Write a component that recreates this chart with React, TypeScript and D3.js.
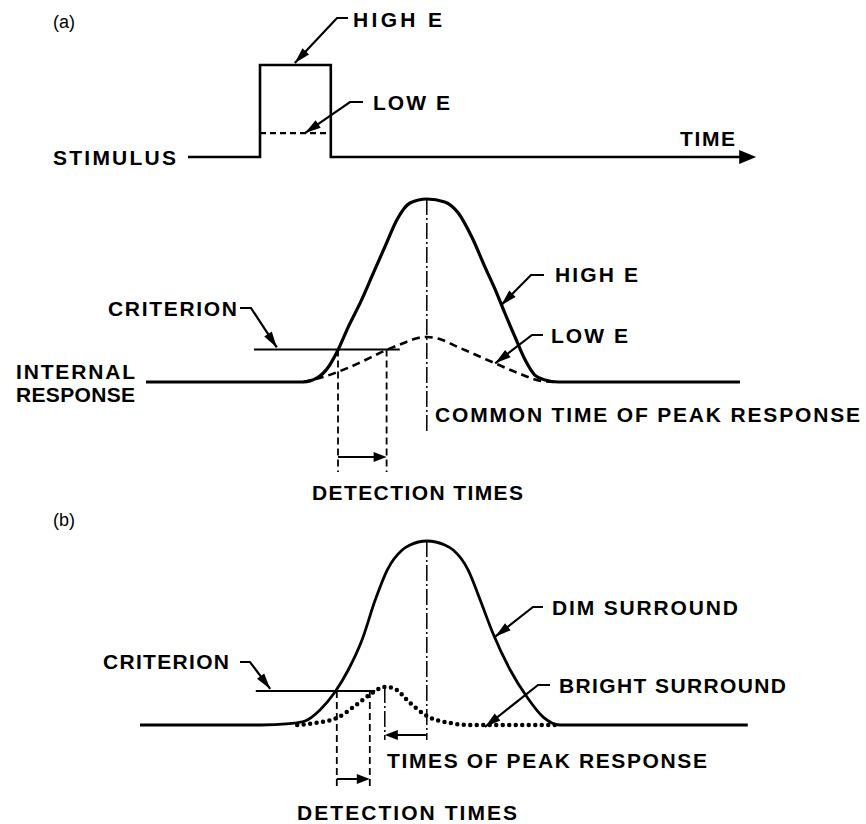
import React from 'react';
import * as d3 from 'd3';

// ---------- data (time units 0..120, amplitude 0..100) ----------
const stimTime = [10, 22, 22, 33.8, 33.8, 103];
const stimHigh = [0, 0, 100, 100, 0, 0];
const stimLowTime = [22, 33.8];
const stimLow = [26, 26];

const highETime = [3, 29.2, 31.5, 33.4, 35, 36.7, 38.7, 40.9, 43.1, 44.8, 47, 49.8, 52.8, 55.05, 57.3, 59.5, 61.45, 62.8, 64.5, 66.2, 67.8, 69.5, 71.7, 102];
const highEValue = [0, 0, 2.2, 8.2, 17.5, 30, 43.2, 59.6, 76, 88.5, 97.8, 100, 98.4, 92.3, 79.2, 62.8, 48.6, 37.7, 24.6, 12, 3.8, 1.1, 0, 0];
const lowETime = [29.2, 32.5, 37, 43.1, 46.4, 48, 49.8, 51.8, 55, 60.7, 65, 69, 71];
const lowEValue = [0, 2.7, 8.2, 17.5, 21.9, 23.8, 24.6, 23.6, 19.1, 10.9, 4.9, 0.5, 0];

const dimTime = [2, 22, 27, 29.5, 32, 34.5, 36.7, 39, 41.2, 43.2, 45.7, 47, 49.8, 52.8, 54.2, 56.7, 58.7, 60.8, 63.7, 66.5, 69.2, 72, 103.3];
const dimValue = [0, 0, 0.8, 2.2, 8.2, 17.9, 29.9, 46.2, 67.9, 84.2, 95.1, 97.8, 100, 97.8, 95.1, 84.2, 67.9, 50, 29.9, 15.2, 4.3, 0, 0];
const brightTime = [28.2, 31.2, 34.8, 37.8, 40.7, 42.8, 44.2, 47, 49.8, 53.7, 57, 71.2];
const brightValue = [0, 1.1, 3.8, 10.3, 17.4, 20.7, 20.1, 12, 4.9, 1.1, 0, 0];

const criterionA = 17.8;
const criterionASpan = [21, 45.3];
const criterionB = 18.5;
const criterionBSpan = [21.3, 41.2];
const detectionA = [35, 43.1];
const detectionB = [34.8, 40.3];
const peakA = 49.8;
const peakB = [42.8, 49.8];

// ---------- layout ----------
const W = 866, H = 824;
const x = d3.scaleLinear().domain([0, 120]).range([128, 848]);
const yStim = d3.scaleLinear().domain([0, 100]).range([157, 65]);
const yA = d3.scaleLinear().domain([0, 100]).range([382, 199]);
const yB = d3.scaleLinear().domain([0, 100]).range([725, 541]);

const FONT = '"Liberation Sans", Arial, Helvetica, sans-serif';

function zip(t: number[], v: number[]) { return t.map((d, i) => [d, v[i]] as [number, number]); }

function head(tx: number, ty: number, fx: number, fy: number, L = 13, w = 4) {
  const a = Math.atan2(ty - fy, tx - fx);
  const bx = tx - L * Math.cos(a), by = ty - L * Math.sin(a);
  const px = -Math.sin(a) * w, py = Math.cos(a) * w;
  return `M${tx},${ty}L${bx + px},${by + py}L${bx - px},${by - py}Z`;
}

function Leader({ sx, sy, bx, by, tx, ty }: any) {
  return (
    <g>
      <path d={`M${sx},${sy}L${bx},${by}L${tx},${ty}`} fill="none" stroke="#000" strokeWidth={2.2} />
      <path d={head(tx, ty, bx, by, 16, 4.5)} fill="#000" />
    </g>
  );
}

function Label({ x: lx, y: ly, len, children, size = 21 }: any) {
  return (
    <text x={lx} y={ly} fontFamily={FONT} fontWeight="bold" fontSize={size}
      textLength={len} lengthAdjust="spacing">{children}</text>
  );
}

export default function App() {
  const lineA = d3.line<[number, number]>().x(d => x(d[0])).y(d => yA(d[1])).curve(d3.curveMonotoneX);
  const lineB = d3.line<[number, number]>().x(d => x(d[0])).y(d => yB(d[1])).curve(d3.curveMonotoneX);
  const lineS = d3.line<[number, number]>().x(d => x(d[0])).y(d => yStim(d[1]));

  const dashDot = '16 3 2 3';
  const detBottomA = 472, detArrowA = 457;
  const detBottomB = 790, detArrowB = 779;

  return (
    <svg width={W} height={H} style={{ position: 'absolute', left: 0, top: 0, background: '#fff' }}>
      <rect width={W} height={H} fill="#fff" />
      {/* ---------- panel (a) stimulus ---------- */}
      <text x={53} y={28} fontFamily={FONT} fontSize={18}>(a)</text>
      <path d={lineS(zip(stimTime, stimHigh)) || ''} fill="none" stroke="#000" strokeWidth={2.6} />
      <path d={head(x(104.7), yStim(0), x(100), yStim(0), 17, 7)} fill="#000" />
      <path d={lineS(zip(stimLowTime, stimLow)) || ''} fill="none" stroke="#000" strokeWidth={2.2} strokeDasharray="6 4" />
      <Label x={53} y={165} len={123}>STIMULUS</Label>
      <Label x={680} y={146} len={55}>TIME</Label>
      <Label x={353} y={27} len={89}>HIGH E</Label>
      <Leader sx={348} sy={18} bx={337} by={18} tx={x(27.8)} ty={yStim(100) - 2} />
      <Label x={373} y={110} len={77}>LOW E</Label>
      <Leader sx={363} sy={102} bx={350} by={102} tx={x(29.5)} ty={yStim(26)} />

      {/* ---------- panel (a) response ---------- */}
      <line x1={x(peakA)} x2={x(peakA)} y1={yA(100)} y2={433} stroke="#000" strokeWidth={1.5} strokeDasharray={dashDot} />
      <path d={lineA(zip(highETime, highEValue)) || ''} fill="none" stroke="#000" strokeWidth={3.2} />
      <path d={lineA(zip(lowETime, lowEValue)) || ''} fill="none" stroke="#000" strokeWidth={2.6} strokeDasharray="8 5" />
      <line x1={x(criterionASpan[0])} x2={x(criterionASpan[1])} y1={yA(criterionA)} y2={yA(criterionA)} stroke="#000" strokeWidth={2} />
      {detectionA.map((t, i) => (
        <line key={i} x1={x(t)} x2={x(t)} y1={yA(criterionA)} y2={detBottomA} stroke="#000" strokeWidth={1.8} strokeDasharray="7 4" />
      ))}
      <line x1={x(detectionA[0])} x2={x(detectionA[1]) - 8} y1={detArrowA} y2={detArrowA} stroke="#000" strokeWidth={2} />
      <path d={head(x(detectionA[1]), detArrowA, x(detectionA[0]), detArrowA, 13, 5)} fill="#000" />

      <Label x={108} y={316} len={129}>CRITERION</Label>
      <Leader sx={240} sy={308} bx={251} by={308} tx={x(24.8)} ty={yA(criterionA) - 2} />
      <Label x={16} y={379} len={119}>INTERNAL</Label>
      <Label x={16} y={402} len={119}>RESPONSE</Label>
      <Label x={555} y={282} len={83}>HIGH E</Label>
      <Leader sx={544} sy={275} bx={531} by={275} tx={x(62.2)} ty={yA(42)} />
      <Label x={551} y={343} len={77}>LOW E</Label>
      <Leader sx={543} sy={335} bx={532} by={335} tx={x(61.2)} ty={yA(10.2)} />
      <Label x={435} y={422} len={425}>COMMON TIME OF PEAK RESPONSE</Label>
      <Label x={312} y={500} len={211}>DETECTION TIMES</Label>

      {/* ---------- panel (b) ---------- */}
      <text x={53} y={526} fontFamily={FONT} fontSize={18}>(b)</text>
      <line x1={x(peakB[1])} x2={x(peakB[1])} y1={yB(100)} y2={740} stroke="#000" strokeWidth={1.5} strokeDasharray={dashDot} />
      <line x1={x(peakB[0])} x2={x(peakB[0])} y1={yB(20.7)} y2={740} stroke="#000" strokeWidth={1.5} strokeDasharray={dashDot} />
      <path d={lineB(zip(dimTime, dimValue)) || ''} fill="none" stroke="#000" strokeWidth={2.8} />
      <path d={lineB(zip(brightTime, brightValue)) || ''} fill="none" stroke="#000" strokeWidth={4.5}
        strokeDasharray="0 6.5" strokeLinecap="round" />
      <line x1={x(criterionBSpan[0])} x2={x(criterionBSpan[1])} y1={yB(criterionB)} y2={yB(criterionB)} stroke="#000" strokeWidth={2} />
      {detectionB.map((t, i) => (
        <line key={i} x1={x(t)} x2={x(t)} y1={yB(criterionB)} y2={detBottomB} stroke="#000" strokeWidth={1.8} strokeDasharray="7 4" />
      ))}
      <line x1={x(detectionB[0])} x2={x(detectionB[1]) - 8} y1={detArrowB} y2={detArrowB} stroke="#000" strokeWidth={2} />
      <path d={head(x(detectionB[1]), detArrowB, x(detectionB[0]), detArrowB, 13, 5)} fill="#000" />
      <line x1={x(peakB[1])} x2={x(peakB[0]) + 8} y1={735} y2={735} stroke="#000" strokeWidth={2} />
      <path d={head(x(peakB[0]), 735, x(peakB[1]), 735, 13, 5)} fill="#000" />

      <Label x={103} y={669} len={126}>CRITERION</Label>
      <Leader sx={240} sy={662} bx={250} by={662} tx={x(23.7)} ty={yB(criterionB) - 2} />
      <Label x={552} y={615} len={186}>DIM  SURROUND</Label>
      <Leader sx={543} sy={607} bx={533} by={607} tx={x(61.2)} ty={yB(48)} />
      <Label x={559} y={693} len={227}>BRIGHT SURROUND</Label>
      <Leader sx={550} sy={685} bx={538} by={685} tx={x(59.5)} ty={yB(0) + 2} />
      <Label x={387} y={768} len={320}>TIMES OF PEAK RESPONSE</Label>
      <Label x={297} y={820} len={220}>DETECTION TIMES</Label>
    </svg>
  );
}
